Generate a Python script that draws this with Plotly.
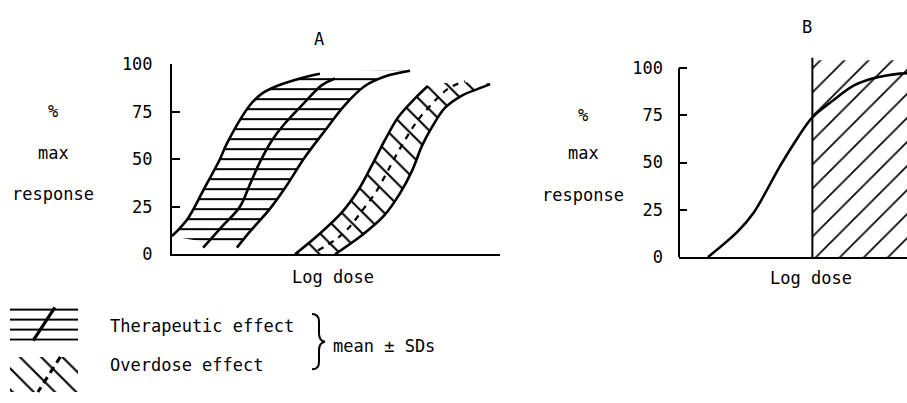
import plotly.graph_objects as go

W, H = 907, 403
FONT = "DejaVu Sans Mono"

# ---- Panel A: dose-response bands (arbitrary log-dose units 0..10) ----
# Therapeutic effect: mean - SD, mean, mean + SD
ther_lo_x = [0.0, 0.49, 0.95, 1.46, 1.68, 2.38, 2.74, 3.2, 3.9, 4.51]
ther_lo_y = [9.5, 19, 33.5, 50, 58.5, 78.5, 84.5, 88.5, 92.5, 95]
ther_mid_x = [0.95, 1.55, 2.07, 2.38, 2.68, 3.05, 3.4, 4.05, 4.57, 4.97]
ther_mid_y = [3.5, 15, 25, 37, 48.5, 60, 68, 80, 89, 92.5]
ther_hi_x = [1.98, 2.38, 2.99, 3.45, 4.05, 4.66, 5.27, 5.88, 6.49, 7.26]
ther_hi_y = [3.5, 12, 24, 35, 51, 65, 78.5, 88.5, 93.5, 96.5]

# Overdose effect: mean - SD, mean, mean + SD
od_lo_x = [3.75, 4.45, 5.18, 5.67, 6.10, 6.49, 6.89, 7.41, 7.80]
od_lo_y = [0, 10, 22, 33.5, 47, 60, 72, 82, 88.5]
od_mid_x = [4.45, 4.97, 5.37, 5.82, 6.19, 6.49, 6.80, 7.10, 7.41, 7.71, 8.41, 8.93]
od_mid_y = [2, 7.5, 13.5, 23.5, 32, 41, 51, 60, 68.5, 75, 87, 91]
od_hi_x = [4.97, 5.79, 6.45, 6.95, 7.32, 7.62, 7.93, 8.32, 8.84, 9.33, 9.70]
od_hi_y = [0, 10, 20, 32, 44, 57, 67, 77, 83.5, 87, 89.5]

# ---- Panel B: single dose-response curve with overdose threshold ----
b_x = [1.27, 2.58, 3.28, 4.45, 5.2, 5.85, 6.77, 7.64, 8.52, 9.69, 10.0]
b_y = [0, 13.6, 23.6, 48.5, 63, 73.9, 82.9, 90.5, 94.5, 97, 97.2]
b_threshold = 5.85
b_top = 104

y_ticks = [0, 25, 50, 75, 100]


def hatch(shape, size, solidity):
    return dict(shape=shape, size=size, solidity=solidity, fgcolor="black",
                fgopacity=1, bgcolor="white", fillmode="replace")


HATCH_H = hatch("-", 10, 0.2)
HATCH_OD = hatch("\\", 15, 0.14)
HATCH_B = hatch("/", 17, 0.1)


def px(x):
    return x / W


def py(y):
    return 1 - y / H


fig = go.Figure()

# therapeutic band (horizontal hatching)
fig.add_trace(go.Scatter(
    x=ther_lo_x + ther_hi_x[::-1], y=ther_lo_y + ther_hi_y[::-1],
    fill="toself", mode="lines", line=dict(width=0, shape="spline"),
    fillcolor="white", fillpattern=HATCH_H,
    xaxis="x", yaxis="y", hoverinfo="skip"))
# overdose band (diagonal hatching)
fig.add_trace(go.Scatter(
    x=od_lo_x + od_hi_x[::-1], y=od_lo_y + od_hi_y[::-1],
    fill="toself", mode="lines", line=dict(width=0, shape="spline"),
    fillcolor="white", fillpattern=HATCH_OD,
    xaxis="x", yaxis="y", hoverinfo="skip"))

curve = dict(color="black", width=2.6, shape="spline")
for xs, ys in [(ther_lo_x, ther_lo_y), (ther_mid_x, ther_mid_y),
               (ther_hi_x, ther_hi_y), (od_lo_x, od_lo_y), (od_hi_x, od_hi_y)]:
    fig.add_trace(go.Scatter(x=xs, y=ys, mode="lines", line=curve,
                             xaxis="x", yaxis="y", hoverinfo="skip"))
fig.add_trace(go.Scatter(x=od_mid_x, y=od_mid_y, mode="lines",
                         line=dict(color="black", width=2.2, shape="spline", dash="6px,6px"),
                         xaxis="x", yaxis="y", hoverinfo="skip"))

# panel B: hatched overdose region beyond the threshold
fig.add_trace(go.Scatter(
    x=[b_threshold, 10, 10, b_threshold], y=[0, 0, b_top, b_top],
    fill="toself", mode="lines", line=dict(width=0),
    fillcolor="white", fillpattern=HATCH_B,
    xaxis="x2", yaxis="y2", hoverinfo="skip"))
fig.add_trace(go.Scatter(x=b_x, y=b_y, mode="lines", line=curve,
                         xaxis="x2", yaxis="y2", hoverinfo="skip"))
fig.add_trace(go.Scatter(x=[b_threshold, b_threshold], y=[0, 105.5], mode="lines",
                         line=dict(color="black", width=2),
                         xaxis="x2", yaxis="y2", hoverinfo="skip"))

# key swatches
box_w, ther_box, od_box = 68, (55, 90), (1, 38)
fig.add_trace(go.Scatter(
    x=[0, box_w, box_w, 0], y=[ther_box[0], ther_box[0], ther_box[1], ther_box[1]],
    fill="toself", mode="lines", line=dict(width=0), fillcolor="white",
    fillpattern=HATCH_H, xaxis="x3", yaxis="y3", hoverinfo="skip"))
fig.add_trace(go.Scatter(
    x=[0, box_w, box_w, 0], y=[od_box[0], od_box[0], od_box[1], od_box[1]],
    fill="toself", mode="lines", line=dict(width=0), fillcolor="white",
    fillpattern=HATCH_OD, xaxis="x3", yaxis="y3", hoverinfo="skip"))
fig.add_trace(go.Scatter(
    x=[0.66 * box_w, 0.34 * box_w], y=[ther_box[1], ther_box[0]], mode="lines",
    line=dict(color="black", width=3.2), xaxis="x3", yaxis="y3", hoverinfo="skip"))
fig.add_trace(go.Scatter(
    x=[0.74 * box_w, 0.41 * box_w], y=[od_box[1], od_box[0]], mode="lines",
    line=dict(color="black", width=3, dash="7px,5px"), xaxis="x3", yaxis="y3", hoverinfo="skip"))

yax = dict(range=[0, 100], tickvals=y_ticks, ticks="inside", ticklen=8, tickwidth=2,
           tickcolor="black", showline=True, linecolor="black", linewidth=2,
           showgrid=False, zeroline=False, fixedrange=True,
           tickfont=dict(family=FONT, size=17, color="black"))
xax = dict(range=[0, 10], showticklabels=False, ticks="", showline=True,
           linecolor="black", linewidth=2, showgrid=False, zeroline=False)

fig.update_layout(
    width=W, height=H, margin=dict(l=0, r=0, t=0, b=0),
    paper_bgcolor="white", plot_bgcolor="white", showlegend=False,
    font=dict(family=FONT, size=17, color="black"),
    xaxis=dict(xax, domain=[px(172), px(500)], anchor="y"),
    yaxis=dict(yax, domain=[py(257), py(57)], anchor="x", ticklabelstandoff=14),
    xaxis2=dict(xax, domain=[px(679), 1.0], anchor="y2"),
    yaxis2=dict(yax, range=[0, 105.5], showline=False, domain=[py(260), py(50)],
                anchor="x2", ticklabelstandoff=15),
    xaxis3=dict(range=[0, 68], domain=[px(10), px(78)], visible=False, anchor="y3"),
    yaxis3=dict(range=[0, 93], domain=[0, py(310)], visible=False, anchor="x3"),
)

# panel B y-axis line stops at 100
fig.add_shape(type="line", xref="x2 domain", yref="y2", x0=0, x1=0, y0=0, y1=100,
              line=dict(color="black", width=2))

# brace grouping the two key entries
brace = (f"M{px(312)},{py(320)} Q{px(319)},{py(320)} {px(319)},{py(328)} "
         f"L{px(319)},{py(340)} Q{px(319)},{py(348)} {px(325)},{py(349)} "
         f"Q{px(319)},{py(350)} {px(319)},{py(358)} L{px(319)},{py(370)} "
         f"Q{px(319)},{py(378)} {px(312)},{py(378)}")
fig.add_shape(type="path", xref="paper", yref="paper", path=brace,
              line=dict(color="black", width=2))


def label(text, x, y, xanchor="center"):
    fig.add_annotation(text=text, x=px(x), y=py(y), xref="paper", yref="paper",
                       xanchor=xanchor, yanchor="middle", showarrow=False,
                       font=dict(family=FONT, size=17, color="black"))


label("A", 319, 30)
label("B", 807, 18)
for cx, ys in [(53, (106, 150, 194)), (583, (110, 150, 195))]:
    label("%", cx, ys[0])
    label("max", cx, ys[1])
    label("response", cx, ys[2])
label("Log dose", 333, 281)
label("Log dose", 811, 282)
label("Therapeutic effect", 108, 332, "left")
label("Overdose effect", 108, 374, "left")
label("mean ± SDs", 331, 354, "left")

fig.write_html("out.html")
